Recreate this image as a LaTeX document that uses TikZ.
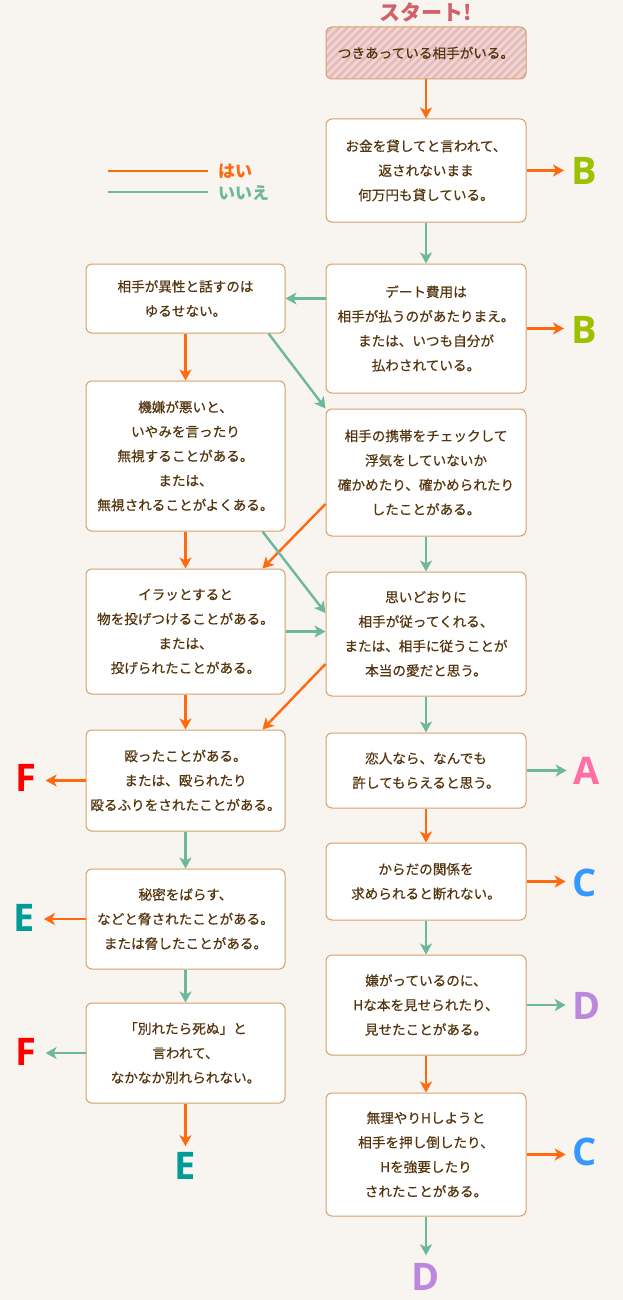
\documentclass[tikz,border=0pt]{standalone}
\usepackage{fontspec}
\setmainfont{Noto Sans CJK JP}
\newfontfamily\jp{Noto Sans CJK JP}[FakeBold=0.5]
\newfontfamily\jpb{Noto Sans CJK JP}
\newfontfamily\letf{Open Sans}
\usetikzlibrary{arrows.meta}
\definecolor{bg}{HTML}{F8F4EF}
\definecolor{boxline}{HTML}{D4A070}
\definecolor{txt}{HTML}{54350E}
\definecolor{yescol}{HTML}{FF6A10}
\definecolor{nocol}{HTML}{6DB89A}
\definecolor{startfill}{HTML}{F2D6D4}
\definecolor{stripecol}{HTML}{E5BBBA}
\definecolor{titlecol}{HTML}{D2606B}
\definecolor{colA}{HTML}{FF6FA6}
\definecolor{colB}{HTML}{9DC000}
\definecolor{colC}{HTML}{3399FF}
\definecolor{colD}{HTML}{BB88DD}
\definecolor{colE}{HTML}{009A99}
\definecolor{colF}{HTML}{FF0000}
\tikzset{
  box/.style={draw=boxline, fill=white, rounded corners=6pt, line width=1pt,
    minimum width=200pt, align=center, text=txt, inner sep=0pt,
    font=\jp\fontsize{13.6}{24.5}\selectfont},
  lbox/.style={box, minimum width=199pt},
  yes/.style={draw=yescol, line width=2.4pt, -{Stealth[length=11pt,width=12pt,inset=3pt]}},
  no/.style={draw=nocol, line width=2.4pt, -{Stealth[length=11pt,width=12pt,inset=3pt]}},
  res/.style={font=\letf\bfseries\fontsize{38}{38}\selectfont, inner sep=0pt},
}
\begin{document}
\begin{tikzpicture}[x=1pt,y=-1pt]
\useasboundingbox (0,0) rectangle (623,1300);
\fill[bg] (0,0) rectangle (623,1300);

% title and start
\node[text=titlecol, font=\jpb\bfseries\fontsize{21}{21}\selectfont, inner sep=0] (title) at (426,12) {スタート!};
\begin{scope}
  \clip[rounded corners=6pt] (326,27) rectangle (526,79);
  \fill[startfill] (326,27) rectangle (526,79);
  \foreach \i in {0,...,36} {
    \draw[stripecol, line width=2.6pt] (250+\i*8,85) -- ++(64,-64);
  }
\end{scope}
\node[box, minimum height=52pt, fill=none] (S) at (426,53) {つきあっている相手がいる。};

% legend
\coordinate (ly1) at (108,171);
\coordinate (ly2) at (208,171);
\coordinate (ln1) at (108,192);
\coordinate (ln2) at (208,192);
\draw[yescol, line width=2.4pt] (ly1) -- (ly2);
\draw[nocol, line width=2.4pt] (ln1) -- (ln2);
\node[anchor=west, text=yescol, font=\jpb\bfseries\fontsize{17}{17}\selectfont, inner sep=0] (lyes) at (218,171) {はい};
\node[anchor=west, text=nocol, font=\jpb\bfseries\fontsize{17}{17}\selectfont, inner sep=0] (lno) at (218,193) {いいえ};

% right column
\node[box, minimum height=103pt] (R1) at (426,170.5) {お金を貸してと言われて、\\返されないまま\\何万円も貸している。};
\node[box, minimum height=129pt] (R2) at (426,328.5) {デート費用は\\相手が払うのがあたりまえ。\\または、いつも自分が\\払わされている。};
\node[box, minimum height=127pt] (R3) at (426,472.5) {相手の携帯をチェックして\\浮気をしていないか\\確かめたり、確かめられたり\\したことがある。};
\node[box, minimum height=124pt] (R4) at (426,634) {思いどおりに\\相手が従ってくれる、\\または、相手に従うことが\\本当の愛だと思う。};
\node[box, minimum height=75pt] (R5) at (426,770.5) {恋人なら、なんでも\\許してもらえると思う。};
\node[box, minimum height=77pt] (R6) at (426,881.5) {からだの関係を\\求められると断れない。};
\node[box, minimum height=100pt] (R7) at (426,1005) {嫌がっているのに、\\Hな本を見せられたり、\\見せたことがある。};
\node[box, minimum height=123pt] (R8) at (426,1154.5) {無理やりHしようと\\相手を押し倒したり、\\Hを強要したり\\されたことがある。};

% left column
\node[lbox, minimum height=69pt] (L1) at (185.5,298.5) {相手が異性と話すのは\\ゆるせない。};
\node[lbox, minimum height=150pt] (L2) at (185.5,456) {機嫌が悪いと、\\いやみを言ったり\\無視することがある。\\または、\\無視されることがよくある。};
\node[lbox, minimum height=125pt] (L3) at (185.5,631.5) {イラッとすると\\物を投げつけることがある。\\または、\\投げられたことがある。};
\node[lbox, minimum height=101pt] (L4) at (185.5,780.5) {殴ったことがある。\\または、殴られたり\\殴るふりをされたことがある。};
\node[lbox, minimum height=100pt] (L5) at (185.5,919) {秘密をばらす、\\などと脅されたことがある。\\または脅したことがある。};
\node[lbox, minimum height=100pt] (L6) at (185.5,1053) {「別れたら死ぬ」と\\言われて、\\なかなか別れられない。};

% result letters
\node[res, text=colB] (B1) at (584,170.5) {B};
\node[res, text=colB] (B2) at (584,330) {B};
\node[res, text=colA] (A1) at (587,770.5) {A};
\node[res, text=colC] (C1) at (585,883) {C};
\node[res, text=colD] (D1) at (587,1006) {D};
\node[res, text=colC] (C2) at (585,1152) {C};
\node[res, text=colD] (D2) at (426,1277) {D};
\node[res, text=colF] (F1) at (26,778) {F};
\node[res, text=colE] (E1) at (24,918) {E};
\node[res, text=colF] (F2) at (26,1052) {F};
\node[res, text=colE] (E2) at (185.5,1166) {E};

% connectors
\draw[yes] (S) -- (R1);
\draw[yes, shorten >=7pt] (R1.east) -- (R1.east -| B1.west);
\draw[no] (R1) -- (R2);
\draw[no] (R2.west |- L1.east) -- (L1.east);
\draw[yes, shorten >=7pt] (R2.east) -- (R2.east -| B2.west);
\draw[yes] (L1) -- (L2);
\draw[no] ([xshift=-17pt]L1.south east) -- (R3.north west);
\draw[yes] ([yshift=-31.5pt]R3.west) -- ([xshift=-23pt]L3.north east);
\draw[no] (R3) -- (R4);
\draw[yes] (L2) -- (L3);
\draw[no] ([xshift=-23pt]L2.south east) -- ([yshift=21pt]R4.west);
\draw[no] (L3.east) -- (L3.east -| R4.west);
\draw[yes] ([yshift=-30pt]R4.west) -- ([xshift=-23pt]L4.north east);
\draw[no] (R4) -- (R5);
\draw[yes] (L3) -- (L4);
\draw[yes, shorten >=9pt] (L4.west) -- (L4.west -| F1.east);
\draw[no] (L4) -- (L5);
\draw[yes, shorten >=9pt] (L5.west) -- (L5.west -| E1.east);
\draw[no] (L5) -- (L6);
\draw[no, shorten >=9pt] (L6.west) -- (L6.west -| F2.east);
\draw[yes, shorten >=6pt] (L6.south) -- (L6.south |- E2.north);
\draw[no, shorten >=7pt] (R5.east) -- (R5.east -| A1.west);
\draw[yes] (R5) -- (R6);
\draw[yes, shorten >=7pt] (R6.east) -- (R6.east -| C1.west);
\draw[no] (R6) -- (R7);
\draw[no, shorten >=7pt] (R7.east) -- (R7.east -| D1.west);
\draw[yes] (R7) -- (R8);
\draw[yes, shorten >=7pt] (R8.east) -- (R8.east -| C2.west);
\draw[no, shorten >=8pt] (R8.south) -- (R8.south |- D2.north);
\end{tikzpicture}
\end{document}
